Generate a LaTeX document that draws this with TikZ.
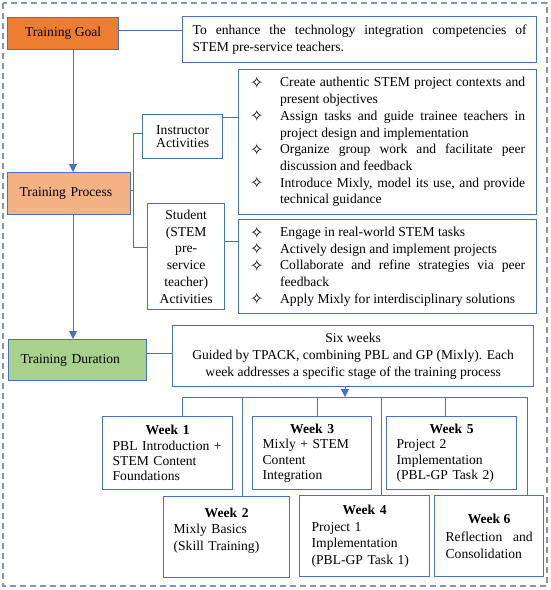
\documentclass[tikz,border=0pt]{standalone}
\usepackage{fontspec}
\setmainfont{Liberation Serif}
\newfontfamily\symfont{DejaVu Sans}
\usepackage{tikz}
\usetikzlibrary{arrows.meta}

\definecolor{lineblue}{HTML}{4472C4}
\definecolor{frameblue}{HTML}{8497B0}
\definecolor{goalfill}{HTML}{ED7D31}
\definecolor{procfill}{HTML}{F4B183}
\definecolor{durfill}{HTML}{A9D18E}

\newcommand{\bul}{\smash{\raisebox{-1.5pt}{\symfont\fontsize{16}{16}\selectfont ✧}}}
\newcommand{\itm}{\hangindent=30pt\hangafter=1\makebox[30pt][l]{\bul}}

\tikzset{
  every node/.style={font=\fontsize{13.6}{16.7}\selectfont},
  box/.style={draw=lineblue, line width=1.3pt, anchor=north west, inner sep=0pt},
  link/.style={draw=lineblue, line width=1pt},
  arr/.style={link, -{Triangle[width=8pt,length=8pt]}},
  listbox/.style={box, minimum width=298pt, text width=275pt, align=justify},
  wkbox/.style={box, inner xsep=10pt, align=left},
  wktop/.style={wkbox, minimum height=73pt, font=\fontsize{13.6}{15.3}\selectfont},
  wkbot/.style={wkbox, minimum height=81pt, font=\fontsize{13.6}{16.5}\selectfont}
}

\begin{document}
\begin{tikzpicture}[x=1pt,y=-1pt]
    \useasboundingbox (0,0) rectangle (550,590);
    \draw[frameblue, line width=1.3pt, dash pattern=on 6pt off 4pt] (3,3) rectangle (547,586);

    % left column
    \node[box, fill=goalfill, minimum width=111pt, minimum height=32pt] (goal) at (7,17) {Training Goal};
    \node[box, fill=procfill, minimum width=123pt, minimum height=42pt, inner xsep=12pt,
      text width=99pt, align=left] (proc) at (7,172) {Training Process};
    \node[box, fill=durfill, minimum width=138pt, minimum height=41pt, inner xsep=12pt,
      text width=114pt, align=left] (dur) at (8,339) {Training Duration};

    % goal text
    \node[box, minimum width=354pt, minimum height=46pt, text width=334pt, align=justify] (goaltxt) at (182,16)
      {To enhance the technology integration competencies of\linebreak STEM pre-service teachers.};

    % activities
    \node[box, minimum width=80pt, minimum height=44pt, align=center,
      font=\fontsize{13.6}{13.5}\selectfont] (instr) at (142,114) {Instructor\\Activities};
    \node[box, minimum width=77pt, minimum height=106pt, align=center] (stud) at (147,203)
      {Student\\(STEM\\pre-\\service\\teacher)\\Activities};
    \node[listbox, minimum height=145pt] (ilist) at (238,69) {%
      \itm Create authentic STEM project contexts and\linebreak present objectives\par
      \itm Assign tasks and guide trainee teachers in\linebreak project design and implementation\par
      \itm Organize group work and facilitate peer\linebreak discussion and feedback\par
      \itm Introduce Mixly, model its use, and provide\linebreak technical guidance\par};
    \node[listbox, minimum height=94pt] (slist) at (238,219) {%
      \itm Engage in real-world STEM tasks\par
      \itm Actively design and implement projects\par
      \itm Collaborate and refine strategies via peer\linebreak feedback\par
      \itm Apply Mixly for interdisciplinary solutions\par};

    % duration text
    \node[box, minimum width=361pt, minimum height=61pt, align=center] (durtxt) at (172,325)
      {Six weeks\\Guided by TPACK, combining PBL and GP (Mixly). Each\\week addresses a specific stage of the training process};

    % weeks
    \node[wktop, minimum width=130pt, text width=110pt] (wk1) at (102,416)
      {\makebox[\linewidth]{\bfseries Week 1}\\PBL Introduction +\\STEM Content\\Foundations};
    \node[wktop, minimum width=119pt, text width=99pt] (wk3) at (252,416)
      {\makebox[\linewidth]{\bfseries Week 3}\\Mixly + STEM\\Content\\Integration};
    \node[wktop, minimum width=130pt, text width=110pt] (wk5) at (386,416)
      {\makebox[\linewidth]{\bfseries Week 5}\\Project 2\\Implementation\\(PBL-GP Task 2)};
    \node[wkbot, minimum width=126pt, text width=106pt] (wk2) at (163,496)
      {\makebox[\linewidth]{\bfseries Week 2}\\Mixly Basics\\(Skill Training)\\\mbox{}};
    \node[wkbot, minimum width=130pt, text width=106pt, inner xsep=12pt] (wk4) at (299,495)
      {\makebox[\linewidth]{\bfseries Week 4}\\Project 1\\Implementation\\(PBL-GP Task 1)};
    \node[wkbot, minimum width=109pt, text width=87pt, inner xsep=11pt, align=justify] (wk6) at (434,495)
      {\makebox[\linewidth]{\bfseries Week 6}\par\vspace{2pt}Reflection and Consolidation};

    % connectors
    \coordinate (trunk) at (73,0);
    \coordinate (brk) at (133,0);
    \draw[link] ([yshift=3pt]goal.east) -- ([yshift=3pt]goal.east -| goaltxt.west);
    \draw[arr] (trunk |- goal.south) -- (trunk |- proc.north);
    \draw[arr] (trunk |- proc.south) -- (trunk |- dur.north);
    \draw[link] ([yshift=3pt]proc.east) -- ([yshift=3pt]brk |- proc.east);
    \draw[link] ([yshift=3pt]instr.west) -- ([yshift=3pt]brk |- instr.west)
      -- ([yshift=9pt]brk |- stud.west) -- ([yshift=9pt]stud.west);
    \draw[link] ([yshift=-3pt]instr.north east) -- ([yshift=-3pt]instr.north east -| ilist.west);
    \draw[link] ([yshift=15pt]stud.east) -- ([yshift=15pt]stud.east -| slist.west);
    \draw[link] ([yshift=7pt]dur.east) -- ([yshift=7pt]dur.east -| durtxt.west);

    \coordinate (dtip) at (345,397);
    \draw[arr] (dtip |- durtxt.south) -- (dtip);
    \foreach \i/\x in {1/182,2/242,3/317,4/381,5/445,6/527} {
      \coordinate (d\i) at (\x,397);
      \draw[link] (d\i) -- (d\i |- wk\i.north);
    }
    \draw[link] (d1) -- (d6);
\end{tikzpicture}
\end{document}
